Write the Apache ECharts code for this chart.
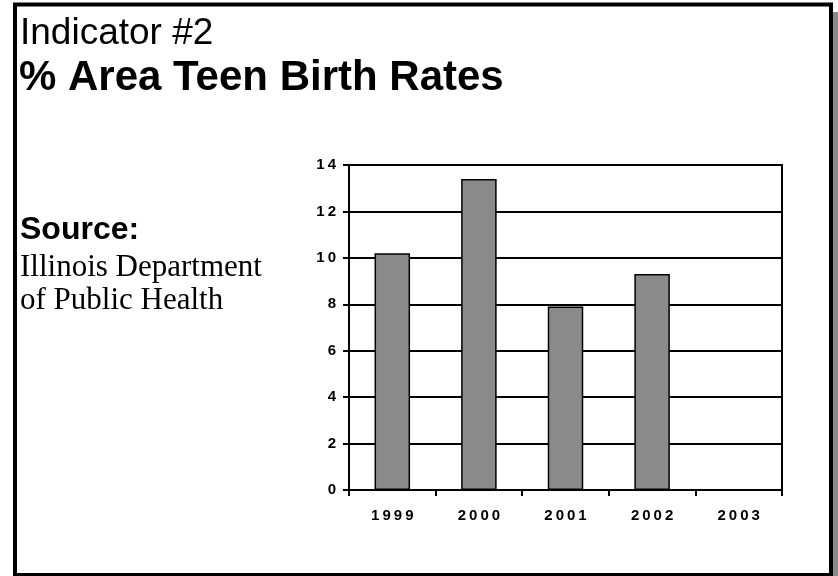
<!DOCTYPE html>
<html>
<head>
<meta charset="utf-8" />
<title>Indicator #2</title>
<script src="https://cdn.jsdelivr.net/npm/echarts@6/dist/echarts.min.js"></script>
<style>
  html, body { margin: 0; padding: 0; background: #fff; }
  #chart { width: 838px; height: 576px; }
</style>
</head>
<body>
<div id="chart"></div>
<script>
// data
var years = ['1999', '2000', '2001', '2002', '2003'];
var rates = [10.2, 13.4, 7.9, 9.3, null];
var yTicks = { min: 0, max: 14, step: 2 };

var narrow = '"Liberation Sans Narrow", "Liberation Sans", Arial, sans-serif';
var sans = '"Liberation Sans", Arial, sans-serif';
var serif = '"Liberation Serif", "Times New Roman", serif';

// spread digits out like the original "1 9 9 9" (thin spaces)
function spaced(v) {
  return String(v).split('').join('\u2009');
}

var myChart = echarts.init(document.getElementById('chart'), null, { renderer: 'canvas' });
var option = {
  backgroundColor: '#fff',
  animation: false,
  graphic: [
    // drop shadow on the right edge
    { type: 'rect', shape: { x: 833, y: 12, width: 6, height: 566 }, style: { fill: '#8a8a8a' }, z: 0 },
    // frame
    { type: 'rect', shape: { x: 15, y: 4.5, width: 816, height: 570.5 }, style: { fill: null, stroke: '#000', lineWidth: 4 }, z: 1 },
    { type: 'text', left: 20, top: 15, style: { text: 'Indicator #2', font: '37px ' + sans, fill: '#000' } },
    { type: 'text', left: 19, top: 57, style: { text: '% Area Teen Birth Rates', font: 'bold 42px ' + sans, fill: '#000' } },
    { type: 'text', left: 20, top: 214, style: { text: 'Source:', font: 'bold 32px ' + sans, fill: '#000' } },
    { type: 'text', left: 20, top: 252, style: { text: 'Illinois Department', font: '31px ' + serif, fill: '#000' } },
    { type: 'text', left: 20, top: 285, style: { text: 'of Public Health', font: '31px ' + serif, fill: '#000' } }
  ],
  grid: {
    left: 349, right: 56, top: 165, bottom: 86,
    show: true, borderColor: '#000', borderWidth: 2, backgroundColor: 'transparent'
  },
  xAxis: {
    type: 'category',
    data: years,
    axisLine: { lineStyle: { color: '#000', width: 2 } },
    axisTick: { show: true, alignWithLabel: false, length: 6, lineStyle: { color: '#000', width: 2 } },
    axisLabel: {
      color: '#000', fontFamily: narrow, fontWeight: 'bold', fontSize: 15, margin: 18,
      formatter: spaced
    }
  },
  yAxis: {
    type: 'value',
    min: yTicks.min, max: yTicks.max, interval: yTicks.step,
    axisLine: { show: true, lineStyle: { color: '#000', width: 2 } },
    axisTick: { show: true, length: 6, lineStyle: { color: '#000', width: 2 } },
    splitLine: { show: true, lineStyle: { color: '#000', width: 2 } },
    axisLabel: {
      color: '#000', fontFamily: narrow, fontWeight: 'bold', fontSize: 15, margin: 13,
      formatter: spaced
    }
  },
  series: [{
    name: 'Teen birth rate',
    type: 'bar',
    data: rates,
    barWidth: '41%',
    itemStyle: { color: '#8a8a8a', borderColor: '#000', borderWidth: 1.5 },
    z: 3
  }]
};
myChart.setOption(option);
</script>
</body>
</html>
